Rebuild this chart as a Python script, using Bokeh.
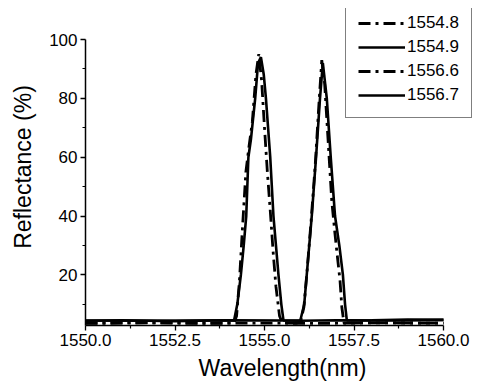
from bokeh.plotting import figure
from bokeh.models import Legend, LegendItem, Range1d, FixedTicker, NumeralTickFormatter
from bokeh.embed import file_html
from bokeh.resources import INLINE

# --- data ---
x_1554_8 = [1550.0, 1551.5, 1553.0, 1554.15, 1554.22, 1554.3, 1554.38, 1554.48, 1554.56, 1554.66,
            1554.76, 1554.84, 1554.92, 1555.0, 1555.08, 1555.16, 1555.24, 1555.32, 1555.42, 1555.5,
            1556.5, 1558.0, 1560.0]
y_1554_8 = [3.6, 3.8, 3.5, 3.6, 6, 18, 35, 55, 63, 72,
            88, 95, 86, 70, 55, 42, 28, 16, 6, 3.6,
            3.5, 3.7, 3.6]

x_1554_9 = [1550.0, 1551.0, 1552.5, 1553.5, 1554.15, 1554.24, 1554.34, 1554.42, 1554.49, 1554.55,
            1554.62, 1554.74, 1554.82, 1554.9, 1554.98, 1555.04, 1555.16, 1555.25, 1555.32, 1555.39,
            1555.47, 1555.53, 1556.0, 1557.0, 1558.5, 1560.0]
y_1554_9 = [4.4, 4.6, 4.3, 4.5, 4.5, 10, 20, 30, 40, 60,
            66, 80, 92, 94, 88, 80, 60, 40, 30, 20,
            10, 4.5, 4.4, 4.6, 4.5, 4.7]

x_1556_6 = [1550.0, 1552.0, 1554.0, 1555.6, 1556.0, 1556.1, 1556.18, 1556.3, 1556.42, 1556.52,
            1556.6, 1556.68, 1556.78, 1556.88, 1556.96, 1557.02, 1557.11, 1557.16, 1557.22, 1558.0,
            1560.0]
y_1556_6 = [3.5, 3.7, 3.6, 3.6, 3.6, 9, 20, 38, 58, 78,
            93, 85, 65, 45, 35, 28, 18, 9, 3.6, 3.7,
            3.6]

x_1556_7 = [1550.0, 1552.0, 1554.0, 1555.6, 1556.0, 1556.11, 1556.18, 1556.32, 1556.44, 1556.55,
            1556.63, 1556.74, 1556.85, 1556.97, 1557.09, 1557.19, 1557.25, 1557.3, 1558.0, 1559.0,
            1560.0]
y_1556_7 = [4.5, 4.4, 4.6, 4.5, 4.5, 10, 20, 40, 60, 80,
            92, 80, 60, 40, 30, 20, 10, 4.5, 4.6, 4.8,
            4.7]

series_labels = ["1554.8", "1554.9", "1556.6", "1556.7"]
x_ticks = [1550.0, 1552.5, 1555.0, 1557.5, 1560.0]
x_minor = [1551.25, 1553.75, 1556.25, 1558.75]
y_ticks = [20, 40, 60, 80, 100]
y_minor = [10, 30, 50, 70, 90]

FONT = "Liberation Sans"

# axes span 1550-1560 and 2.8-100; the frame is extended to the top/right so the
# legend (which overhangs the axes box in the reference) is not clipped
X0, X1 = 1550.0, 1560.0
Y0, Y1 = 2.8, 100.0
AX_W, AX_H = 358, 286          # pixel size of the axes box
FW, FH = 394, 317              # frame size incl. overhang room
x_end = X0 + (X1 - X0) * FW / AX_W
y_end = Y0 + (Y1 - Y0) * FH / AX_H

p = figure(frame_width=FW, frame_height=FH, output_backend="svg", toolbar_location=None,
           x_range=Range1d(X0, x_end), y_range=Range1d(Y0, y_end),
           min_border_left=85, min_border_right=0, min_border_top=8, min_border_bottom=61)
p.outline_line_color = None
p.grid.visible = False
p.background_fill_color = "white"
p.border_fill_color = "white"

dashdot = "12 5 3 5"
r1 = p.line(x_1554_8, y_1554_8, line_color="black", line_width=2.8, line_dash=dashdot)
r2 = p.line(x_1554_9, y_1554_9, line_color="black", line_width=2.6)
r3 = p.line(x_1556_6, y_1556_6, line_color="black", line_width=2.8, line_dash=dashdot)
r4 = p.line(x_1556_7, y_1556_7, line_color="black", line_width=2.6)

for ax in (p.xaxis[0], p.yaxis[0]):
    ax.axis_line_color = "black"
    ax.axis_line_width = 1.5
    ax.major_tick_line_color = "black"
    ax.minor_tick_line_color = "black"
    ax.major_tick_out = 5
    ax.major_tick_in = 0
    ax.minor_tick_out = 3
    ax.minor_tick_in = 0
    ax.major_tick_line_width = 1.3
    ax.minor_tick_line_width = 1.2
    ax.major_label_text_font = FONT
    ax.major_label_text_font_size = "17px"
    ax.major_label_text_color = "black"
    ax.axis_label_text_font = FONT
    ax.axis_label_text_font_size = "23px"
    ax.axis_label_text_font_style = "normal"
    ax.axis_label_text_color = "black"
    ax.major_label_standoff = 3

p.xaxis[0].bounds = (X0, X1)
p.xaxis[0].ticker = FixedTicker(ticks=x_ticks, minor_ticks=x_minor)
p.xaxis[0].formatter = NumeralTickFormatter(format="0.0")
p.xaxis[0].axis_label = "Wavelength(nm)"
p.xaxis[0].axis_label_standoff = 6

p.yaxis[0].bounds = (Y0, Y1)
p.yaxis[0].ticker = FixedTicker(ticks=y_ticks, minor_ticks=y_minor)
p.yaxis[0].axis_label = "Reflectance (%)"
p.yaxis[0].axis_label_standoff = 10

legend = Legend(items=[LegendItem(label=series_labels[0], renderers=[r1]),
                       LegendItem(label=series_labels[1], renderers=[r2]),
                       LegendItem(label=series_labels[2], renderers=[r3]),
                       LegendItem(label=series_labels[3], renderers=[r4])],
                location=(260, 207), orientation="vertical",
                glyph_width=47, glyph_height=20, label_height=20, label_standoff=2,
                padding=12, spacing=4, margin=0,
                label_text_font=FONT, label_text_font_size="17px", label_text_color="black",
                border_line_color="black", border_line_width=1,
                background_fill_color="white", background_fill_alpha=1.0)
p.add_layout(legend, "center")

open("out.html", "w").write(file_html(p, INLINE))
